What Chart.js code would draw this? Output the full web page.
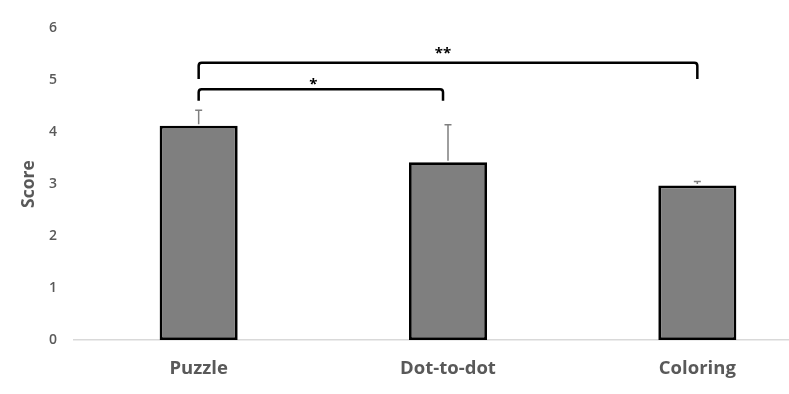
<!DOCTYPE html>
<html>
<head>
<meta charset="utf-8">
<script src="https://cdn.jsdelivr.net/npm/chart.js@4"></script>
<style>
  html, body { margin: 0; padding: 0; background: #fff; overflow: hidden; }
  #wrap { width: 822px; height: 394px; }
</style>
</head>
<body>
<div id="wrap"><canvas id="c" width="822" height="394"></canvas></div>
<script>
// ---- data ----
const categories = ['Puzzle', 'Dot-to-dot', 'Coloring'];
const scores = [4.12, 3.42, 2.97];
const errors = [0.30, 0.72, 0.08];
const yTicks = [0, 1, 2, 3, 4, 5, 6];
// significance brackets (category index units, score units)
const bracketFrom = [0, 0];
const bracketTo = [0.98, 2];
const bracketTopY = [4.82, 5.33];
const bracketEndY = [4.60, 5.02];
const starLabels = ['*', '**'];
const starX = [0.46, 0.98];
const starY = [5.0, 5.6];

const errorBarPlugin = {
  id: 'errorBars',
  afterDatasetsDraw(chart) {
    const ctx = chart.ctx;
    const x = chart.scales.x, y = chart.scales.y;
    const meta = chart.getDatasetMeta(0);
    ctx.save();
    ctx.strokeStyle = '#7f7f7f';
    ctx.lineWidth = 1.5;
    meta.data.forEach((bar, i) => {
      const px = bar.x;
      const top = y.getPixelForValue(scores[i] + errors[i]);
      const base = y.getPixelForValue(scores[i]) - 1.5;
      ctx.beginPath();
      ctx.moveTo(px, base);
      ctx.lineTo(px, top);
      ctx.moveTo(px - 3.5, top);
      ctx.lineTo(px + 3.5, top);
      ctx.stroke();
    });
    // brackets
    ctx.strokeStyle = '#000';
    ctx.lineWidth = 2.5;
    ctx.lineJoin = 'round';
    for (let i = 0; i < bracketFrom.length; i++) {
      const x1 = x.getPixelForValue(bracketFrom[i]);
      const x2 = x.getPixelForValue(bracketTo[i]);
      const yt = y.getPixelForValue(bracketTopY[i]);
      const yb = y.getPixelForValue(bracketEndY[i]);
      const r = 3;
      ctx.beginPath();
      ctx.moveTo(x1, yb);
      ctx.lineTo(x1, yt + r);
      ctx.quadraticCurveTo(x1, yt, x1 + r, yt);
      ctx.lineTo(x2 - r, yt);
      ctx.quadraticCurveTo(x2, yt, x2, yt + r);
      ctx.lineTo(x2, yb);
      ctx.stroke();
    }
    ctx.fillStyle = '#000';
    ctx.font = 'bold 15px "Open Sans", sans-serif';
    ctx.textAlign = 'center';
    ctx.textBaseline = 'alphabetic';
    for (let i = 0; i < starLabels.length; i++) {
      const sx = x.getPixelForValue(starX[i]);
      const sy = y.getPixelForValue(starY[i]);
      ctx.fillText(starLabels[i], sx, sy + 9);
    }
    ctx.restore();
  }
};

new Chart(document.getElementById('c'), {
  type: 'bar',
  data: {
    labels: categories,
    datasets: [{
      data: scores,
      backgroundColor: '#7f7f7f',
      borderColor: '#000',
      borderWidth: 2.8,
      borderSkipped: false,
      barPercentage: 0.313,
      categoryPercentage: 1.0
    }]
  },
  options: {
    responsive: false,
    animation: false,
    layout: { padding: { top: 28, right: 0, bottom: 0, left: 0 } },
    plugins: { legend: { display: false }, tooltip: { enabled: false } },
    scales: {
      x: {
        grid: { display: false, drawTicks: false },
        border: { display: true, color: '#d9d9d9', width: 1.5 },
        ticks: {
          color: '#595959',
          font: { family: '"Open Sans", sans-serif', size: 18.5, weight: 'bold' },
          padding: 18
        },
        afterFit(s) { s.height = 54; }
      },
      y: {
        min: 0, max: 6,
        afterBuildTicks(s) { s.ticks = yTicks.map(v => ({ value: v })); },
        grid: { display: false, drawTicks: false },
        border: { display: false },
        ticks: {
          color: '#595959',
          font: { family: '"Open Sans", sans-serif', size: 14, weight: '600' },
          padding: 17
        },
        title: {
          display: true,
          text: 'Score',
          color: '#595959',
          font: { family: '"Open Sans", sans-serif', size: 17.5, weight: 'bold' },
          padding: { top: 19, bottom: 0 }
        },
        afterFit(s) { s.width = 74; }
      }
    }
  },
  plugins: [errorBarPlugin]
});
</script>
</body>
</html>
